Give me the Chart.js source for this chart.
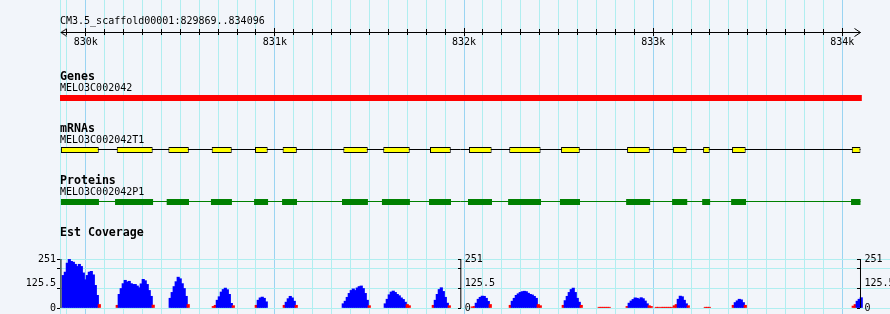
<!DOCTYPE html>
<html>
<head>
<meta charset="utf-8">
<script src="https://cdn.jsdelivr.net/npm/chart.js@4.4.1/dist/chart.umd.min.js"></script>
<style>
  html, body { margin: 0; padding: 0; background: #f2f5fa; overflow: hidden; }
  canvas { display: block; }
</style>
</head>
<body>
<canvas id="browser" width="890" height="314"></canvas>
<script>
// ---- data ----
const regionLabel = 'CM3.5_scaffold00001:829869..834096';
const rulerSpan = [829869, 834096];
const rulerTicks = [830000, 831000, 832000, 833000, 834000];
const rulerLabels = ['830k', '831k', '832k', '833k', '834k'];

const trackTitles = ['Genes', 'mRNAs', 'Proteins', 'Est Coverage'];
const featureNames = ['MELO3C002042', 'MELO3C002042T1', 'MELO3C002042P1'];

const geneSpan = [829862, 834103];
const mrnaExons = [
  [829869, 830069], [830164, 830354], [830437, 830545], [830666, 830772],
  [830895, 830962], [831041, 831116], [831362, 831491], [831573, 831713],
  [831820, 831930], [832026, 832146], [832239, 832405], [832513, 832612],
  [832862, 832982], [833105, 833177], [833264, 833299], [833417, 833489],
  [834050, 834096]
];
const cdsBlocks = [
  [829869, 830070], [830155, 830356], [830428, 830546], [830662, 830773],
  [830890, 830964], [831038, 831117], [831355, 831492], [831566, 831714],
  [831815, 831931], [832021, 832148], [832233, 832407], [832507, 832613],
  [832857, 832984], [833100, 833180], [833259, 833301], [833412, 833491],
  [834046, 834096]
];

// est coverage, one value per ~10.6 bp bin, grouped in runs
const covBin = 10.57;
const covPivot = 20;
const covStarts = [829875, 830160, 830440, 830668, 830895, 831043, 831355, 831577,
  831831, 832037, 832238, 832518, 832708, 832856, 833010, 833036, 833105, 833269,
  833417, 834051];
const covValues = [
  [167, 184, 230, 249, 239, 235, 224, 213, 224, 213, 180, 145, 167, 184, 188, 170, 116, 65, 18],
  [14, 70, 100, 125, 142, 133, 137, 125, 121, 121, 113, 104, 124, 147, 140, 121, 90, 60, 15],
  [50, 80, 110, 135, 158, 150, 125, 100, 60, 18],
  [8, 14, 40, 58, 82, 95, 102, 94, 70, 24, 12],
  [14, 40, 52, 56, 50, 32],
  [14, 30, 48, 60, 52, 35, 14],
  [22, 35, 55, 75, 90, 98, 90, 103, 110, 113, 100, 75, 40, 12],
  [22, 45, 68, 82, 87, 80, 70, 63, 52, 44, 30, 18, 12],
  [14, 40, 70, 95, 104, 85, 55, 25, 12],
  [6, 8, 25, 45, 55, 61, 60, 50, 34, 18],
  [14, 35, 50, 65, 73, 80, 84, 86, 84, 76, 70, 67, 60, 50, 18, 12],
  [14, 38, 60, 80, 95, 102, 80, 50, 30, 14],
  [4, 4, 4, 4, 4, 4],
  [8, 25, 36, 44, 52, 50, 46, 53, 48, 36, 22, 12, 8],
  [4, 4],
  [4, 4, 4, 4, 4, 4],
  [12, 18, 45, 61, 58, 40, 22, 12],
  [4, 4, 4],
  [14, 28, 37, 45, 42, 28, 14],
  [10, 18, 35, 45, 53]
];
const covMax = 251;
const covAxisTicks = [0, 100.4, 200.8, 251];
const covLabelValues = [0, 125.5, 251];
const covLabels = ['0', '125.5', '251'];
const covPanelEdges = [829869, 831983, 834096];

// ---- layout ----
const H = 314, LEFT = 60;
const X_MIN = 829864, X_MAX = 834252;
const ROW0 = 98, ROW_GAP = 52;           // pixel of first track row, spacing
const row = px => (px - ROW0) / ROW_GAP;
// thin connector lines sit on a whole pixel row just above the track centre
const lineRow = i => row(Math.floor(ROW0 + i * ROW_GAP - 0.5) + 0.5);
const RULER_PX = 32.5;
const COV_ZERO = 308, COV_TOP = 259;
const covPx = (COV_ZERO - COV_TOP) / covMax;
const COV_MIN = -(H - COV_ZERO) / covPx;
const COV_LIM = covMax + COV_TOP / covPx;

const GRID = '#b0eef0', GRID_MAJOR = '#9ad4f2';
const MONO = 'DejaVu Sans Mono';

Chart.defaults.font.family = MONO;

function arrow(dir) {
  const c = document.createElement('canvas');
  c.width = 13; c.height = 9;
  const g = c.getContext('2d');
  const end = dir < 0 ? 12.5 : 0.5;
  g.strokeStyle = '#000';
  g.lineWidth = 1;
  g.beginPath();
  g.moveTo(end, 0.5); g.lineTo(6.5, 4.5); g.lineTo(end, 8.5);
  g.stroke();
  return c;
}

const span = blocks => [blocks[0][0], blocks[blocks.length - 1][1]];
const hline = (s, i, color) => ({
  type: 'line', data: [{x: s[0], y: lineRow(i)}, {x: s[1], y: lineRow(i)}],
  borderColor: color, borderWidth: 1, pointRadius: 0,
  xAxisID: 'x', yAxisID: 'y', order: 3
});

const covPoints = [];
covStarts.forEach((s, b) => {
  covValues[b].forEach((v, i) => covPoints.push({x: s + i * covBin, y: v}));
});

const datasets = [
  {
    type: 'line',
    data: [{x: rulerSpan[0], y: row(RULER_PX)}, {x: rulerSpan[1], y: row(RULER_PX)}],
    borderColor: '#000', borderWidth: 1,
    pointRadius: 4, pointStyle: [arrow(-1), arrow(1)],
    xAxisID: 'x', yAxisID: 'y', order: 3
  },
  {
    type: 'bar', indexAxis: 'y', grouped: false,
    data: [{x: geneSpan, y: 0}],
    backgroundColor: '#ff0000', borderWidth: 0, maxBarThickness: 6,
    xAxisID: 'x', yAxisID: 'y', order: 1
  },
  hline(span(mrnaExons), 1, '#000'),
  {
    type: 'bar', indexAxis: 'y', grouped: false,
    data: mrnaExons.map(e => ({x: e, y: 1})),
    backgroundColor: '#ffff00', borderColor: '#000', borderWidth: 1,
    borderSkipped: false, maxBarThickness: 6,
    xAxisID: 'x', yAxisID: 'y', order: 1
  },
  hline(span(cdsBlocks), 2, '#008000'),
  {
    type: 'bar', indexAxis: 'y', grouped: false,
    data: cdsBlocks.map(e => ({x: e, y: 2})),
    backgroundColor: '#008000', borderWidth: 0, maxBarThickness: 6,
    xAxisID: 'x', yAxisID: 'y', order: 1
  },
  {
    type: 'bar',
    data: covPoints,
    backgroundColor: c => (c.raw && c.raw.y < covPivot) ? '#ff0000' : '#0000ff',
    borderWidth: 0, barThickness: 2.5,
    xAxisID: 'xc', yAxisID: 'yc', order: 1
  }
].concat(covPanelEdges.map(e => ({
  type: 'line', data: [{x: e, y: 0}, {x: e, y: covMax}],
  borderColor: '#000', borderWidth: 1, pointRadius: 0,
  xAxisID: 'x', yAxisID: 'yc', order: 0
})));

const xBase = {type: 'linear', min: X_MIN, max: X_MAX, offset: false};
const covBase = {type: 'linear', min: COV_MIN, max: COV_LIM, offset: false};
const setCovTicks = s => { s.ticks = covAxisTicks.map(v => ({value: v})); };
const inRuler = s => { s.ticks = s.ticks.filter(t => t.value >= rulerSpan[0] && t.value <= rulerSpan[1]); };

const covAxis = edge => Object.assign({}, covBase, {
  position: {x: edge},
  border: {display: false},
  grid: {drawOnChartArea: false, tickLength: 3, tickColor: '#000', offset: false},
  ticks: {display: false},
  afterBuildTicks: setCovTicks
});

const trackText = {
  id: 'trackText',
  afterDraw(chart) {
    const {ctx, chartArea, scales} = chart;
    const x0 = chartArea.left;
    ctx.save();
    ctx.fillStyle = '#000';
    ctx.textBaseline = 'middle';
    ctx.textAlign = 'left';
    ctx.font = '10px "' + MONO + '"';
    ctx.fillText(regionLabel, x0, RULER_PX - 11.5);
    trackTitles.forEach((t, i) => {
      const y = scales.y.getPixelForValue(i);
      ctx.font = 'bold 11.6px "' + MONO + '"';
      ctx.fillText(t, x0, y - 21.5);
      if (featureNames[i]) {
        ctx.font = '10px "' + MONO + '"';
        ctx.fillText(featureNames[i], x0, y - 10);
      }
    });
    ctx.font = '10px "' + MONO + '"';
    covPanelEdges.forEach((edge, p) => {
      const px = scales.x.getPixelForValue(edge);
      ctx.textAlign = p === 0 ? 'right' : 'left';
      covLabelValues.forEach((v, k) => {
        ctx.fillText(covLabels[k], p === 0 ? px - 5 : px + 4, scales.yc.getPixelForValue(v));
      });
    });
    ctx.restore();
  }
};

new Chart(document.getElementById('browser'), {
  type: 'line',
  data: {datasets: datasets},
  options: {
    responsive: false,
    animation: false,
    events: [],
    layout: {padding: 0, autoPadding: false},
    plugins: {legend: {display: false}, tooltip: {enabled: false}},
    scales: {
      x: Object.assign({}, xBase, {
        position: {y: 0},
        border: {display: false},
        grid: {
          color: c => (c.tick && c.tick.value % 1000 === 0) ? GRID_MAJOR : GRID,
          drawTicks: false, offset: false
        },
        ticks: {display: false, stepSize: 100, includeBounds: false},
        afterBuildTicks: s => { s.ticks = s.ticks.filter(t => t.value <= rulerSpan[1]); }
      }),
      xc: Object.assign({}, xBase, {display: false, grid: {offset: false}}),
      xr: Object.assign({}, xBase, {
        position: {y: row(29)},
        border: {display: false},
        grid: {drawOnChartArea: false, tickLength: 6, tickColor: '#000', offset: false},
        ticks: {display: false, stepSize: 100, includeBounds: false},
        afterBuildTicks: inRuler
      }),
      xk: Object.assign({}, xBase, {
        position: {y: row(28)},
        border: {display: false},
        grid: {drawOnChartArea: false, tickLength: 8, tickColor: '#000', offset: false},
        ticks: {
          autoSkip: false, maxRotation: 0, padding: 0, color: '#000',
          font: {family: MONO, size: 10},
          callback: v => rulerLabels[rulerTicks.indexOf(v)]
        },
        afterBuildTicks: s => { s.ticks = rulerTicks.map(v => ({value: v})); }
      }),
      y: {
        type: 'linear', min: row(0), max: row(H), reverse: true,
        offset: false, display: false, grid: {offset: false}
      },
      yc: Object.assign({}, covBase, {
        position: 'left',
        border: {display: true, color: GRID},
        grid: {color: GRID, tickLength: 3, tickColor: '#000', offset: false},
        ticks: {display: false},
        afterBuildTicks: setCovTicks,
        afterFit: s => { s.width = LEFT; }
      }),
      yc2: covAxis(covPanelEdges[1]),
      yc3: covAxis(covPanelEdges[2])
    }
  },
  plugins: [trackText]
});
</script>
</body>
</html>
